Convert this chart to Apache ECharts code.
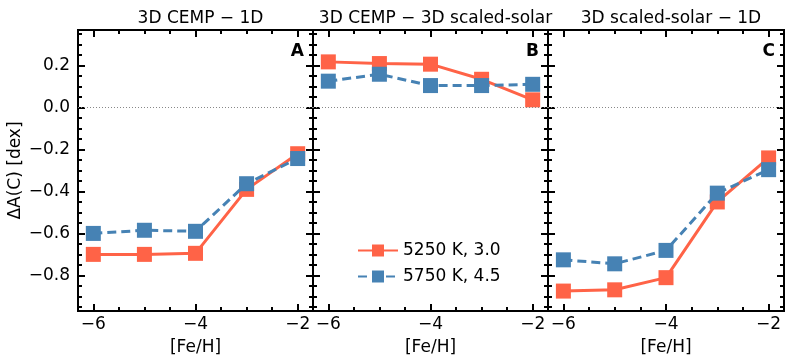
<!DOCTYPE html>
<html>
<head>
<meta charset="utf-8">
<script src="https://cdn.jsdelivr.net/npm/echarts@6/dist/echarts.min.js"></script>
<style>
  html, body { margin: 0; padding: 0; background: #fff; }
  #chart { width: 793px; height: 364px; }
</style>
</head>
<body>
<div id="chart"></div>
<script>
// data
var feH = [-6, -5, -4, -3, -2];
var panelTitles = ['3D CEMP \u2212 1D', '3D CEMP \u2212 3D scaled-solar', '3D scaled-solar \u2212 1D'];
var panelLetters = ['A', 'B', 'C'];
var seriesNames = ['5250 K, 3.0', '5750 K, 4.5'];

var redA = [-0.70, -0.70, -0.695, -0.39, -0.22];
var blueA = [-0.60, -0.585, -0.59, -0.363, -0.243];
var redB = [0.218, 0.21, 0.207, 0.135, 0.037];
var blueB = [0.126, 0.159, 0.105, 0.105, 0.111];
var redC = [-0.875, -0.869, -0.811, -0.45, -0.24];
var blueC = [-0.726, -0.745, -0.681, -0.408, -0.296];

var xMajor = [-6, -4, -2];
var xMinor = [-6, -5.5, -5, -4.5, -4, -3.5, -3, -2.5, -2];
var yMajor = [-0.8, -0.6, -0.4, -0.2, 0.0, 0.2];
var yMinor = [-0.95, -0.9, -0.85, -0.8, -0.75, -0.7, -0.65, -0.6, -0.55, -0.5, -0.45, -0.4,
    -0.35, -0.3, -0.25, -0.2, -0.15, -0.1, -0.05, 0, 0.05, 0.1, 0.15, 0.2, 0.25, 0.3, 0.35];

var red = '#ff6347', blue = '#4682b4';
var font = 'DejaVu Sans';
var fs = 17;

function minus(v, dec) {
    var s = Math.abs(v).toFixed(dec);
    return v < -1e-9 ? '\u2212' + s : s;
}

var grids = [
    {left: 78, width: 235, top: 30, height: 281},
    {left: 313, width: 235, top: 30, height: 281},
    {left: 548, width: 236, top: 30, height: 281}
];

var xAxes = [], yAxes = [];

// every panel gets 4 x axes (bottom/top, major/minor) and 4 y axes
grids.forEach(function (g, i) {
    ['bottom', 'top'].forEach(function (pos) {
        [true, false].forEach(function (major) {
            var showLabel = pos === 'bottom' && major;
            xAxes.push({
                type: 'value', gridIndex: i, position: pos,
                min: -6.3, max: -1.7,
                name: showLabel ? '[Fe/H]' : '',
                nameLocation: 'middle', nameGap: 28,
                nameTextStyle: {fontFamily: font, fontSize: fs, color: '#000'},
                axisLine: {show: true, onZero: false, lineStyle: {color: '#000', width: 2}},
                axisTick: {show: true, inside: true, length: major ? 7 : 4,
                    customValues: major ? xMajor : xMinor,
                    lineStyle: {color: '#000', width: 2}},
                axisLabel: {show: showLabel, customValues: xMajor, margin: 5,
                    fontFamily: font, fontSize: fs, color: '#000',
                    formatter: function (v) { return minus(v, 0); }},
                splitLine: {show: false}
            });
        });
    });
    ['left', 'right'].forEach(function (pos) {
        [true, false].forEach(function (major) {
            var showLabel = i === 0 && pos === 'left' && major;
            yAxes.push({
                type: 'value', gridIndex: i, position: pos,
                min: -0.97, max: 0.37,
                name: showLabel ? '\u0394A(C) [dex]' : '',
                nameLocation: 'middle', nameGap: 54,
                nameTextStyle: {fontFamily: font, fontSize: fs, color: '#000'},
                axisLine: {show: true, onZero: false, lineStyle: {color: '#000', width: 2}},
                axisTick: {show: true, inside: true, length: major ? 7 : 4,
                    customValues: major ? yMajor : yMinor,
                    lineStyle: {color: '#000', width: 2}},
                axisLabel: {show: showLabel, customValues: yMajor, margin: 8,
                    fontFamily: font, fontSize: fs, color: '#000',
                    formatter: function (v) { return minus(v, 1); }},
                splitLine: {show: false}
            });
        });
    });
});

function pairs(ys) {
    return feH.map(function (x, k) { return [x, ys[k]]; });
}

var panelData = [[redA, blueA], [redB, blueB], [redC, blueC]];
var series = [];

panelData.forEach(function (pd, i) {
    series.push({
        name: seriesNames[0], type: 'line',
        xAxisIndex: i * 4, yAxisIndex: i * 4,
        data: pairs(pd[0]),
        symbol: 'rect', symbolSize: 15,
        itemStyle: {color: red},
        lineStyle: {color: red, width: 3},
        z: 3,
        markLine: {
            silent: true, symbol: ['none', 'none'],
            label: {show: false},
            lineStyle: {color: '#888', width: 1, type: [1, 2]},
            data: [{yAxis: 0}]
        }
    });
    series.push({
        name: seriesNames[1], type: 'line',
        xAxisIndex: i * 4, yAxisIndex: i * 4,
        data: pairs(pd[1]),
        symbol: 'rect', symbolSize: 15,
        itemStyle: {color: blue},
        lineStyle: {color: blue, width: 3, type: [9, 5]},
        z: 4
    });
});

var titles = panelTitles.map(function (t, i) {
    return {
        text: t, left: grids[i].left + grids[i].width / 2, top: 5,
        textAlign: 'center',
        textStyle: {fontFamily: font, fontSize: fs, fontWeight: 'normal', color: '#000'}
    };
});

var letters = panelLetters.map(function (l, i) {
    return {
        type: 'text',
        right: 793 - (grids[i].left + grids[i].width) + 9, top: 43,
        style: {text: l, fontFamily: font, fontSize: fs, fontWeight: 'bold', fill: '#000'}
    };
});

var chart = echarts.init(document.getElementById('chart'), null, {renderer: 'canvas'});

var option = {
    animation: false,
    backgroundColor: '#fff',
    title: titles,
    grid: grids,
    xAxis: xAxes,
    yAxis: yAxes,
    legend: {
        data: seriesNames,
        orient: 'vertical',
        left: 352, top: 237,
        itemWidth: 40, itemHeight: 15, itemGap: 9,
        textStyle: {fontFamily: font, fontSize: fs, color: '#000'}
    },
    graphic: letters,
    series: series
};

chart.setOption(option);
</script>
</body>
</html>
